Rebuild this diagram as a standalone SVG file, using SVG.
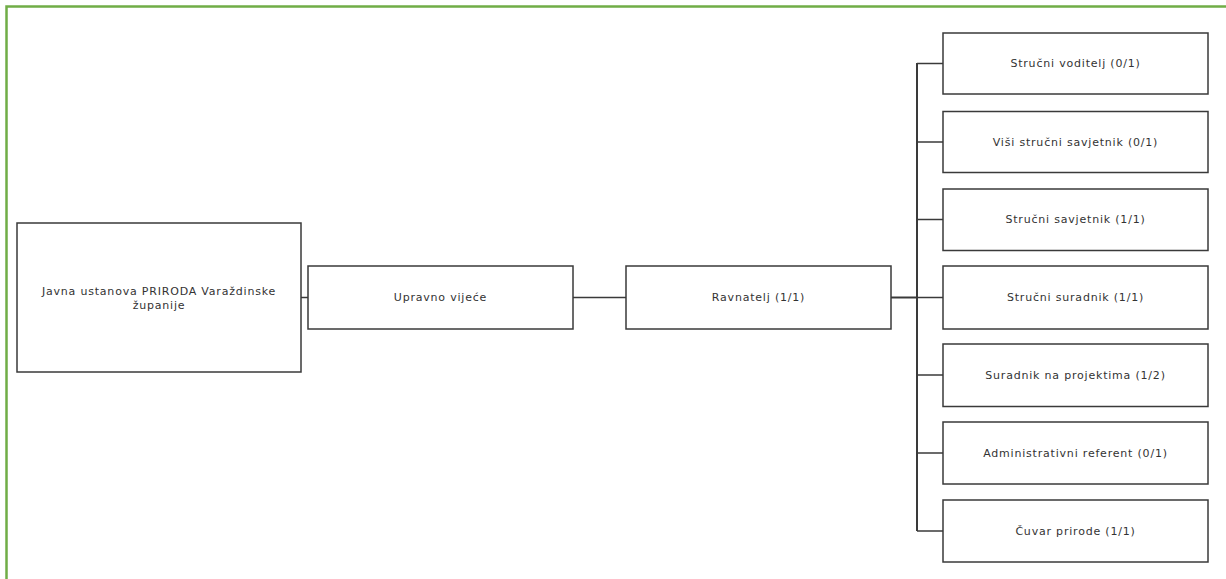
<svg xmlns="http://www.w3.org/2000/svg" width="1226" height="579" viewBox="0 0 1226 579">
<style>
.box{fill:#fff;stroke:#3a3a3a;stroke-width:1.5}
.lbl{font-family:"DejaVu Sans",Verdana,sans-serif;font-size:11px;letter-spacing:0.8px;fill:#333;text-anchor:middle;dominant-baseline:central}
.con{stroke:#3a3a3a;stroke-width:1.5;fill:none}
</style>
<rect x="0" y="0" width="1226" height="579" fill="#fff"/>
<path d="M6.5,579 V6.5 H1226" fill="none" stroke="#70ad47" stroke-width="2.5"/>
<g id="connectors">
<line class="con" x1="301" y1="297.5" x2="308" y2="297.5"/>
<line class="con" x1="573" y1="297.5" x2="626" y2="297.5"/>
<line class="con" x1="891" y1="297.5" x2="917" y2="297.5" style="stroke-width:2"/>
<line class="con" x1="917" y1="63" x2="917" y2="531" style="stroke-width:2"/>
<line class="con" x1="917" y1="63.5" x2="943" y2="63.5"/>
<line class="con" x1="917" y1="142" x2="943" y2="142"/>
<line class="con" x1="917" y1="219.5" x2="943" y2="219.5"/>
<line class="con" x1="917" y1="297.5" x2="943" y2="297.5"/>
<line class="con" x1="917" y1="375" x2="943" y2="375"/>
<line class="con" x1="917" y1="453" x2="943" y2="453"/>
<line class="con" x1="917" y1="531" x2="943" y2="531"/>
</g>
<g id="n-javna"><rect class="box" x="17" y="223" width="284" height="149"/><text class="lbl" x="159" y="291">Javna ustanova PRIRODA Varaždinske</text><text class="lbl" x="159" y="305">županije</text></g>
<g id="n-upravno"><rect class="box" x="308" y="266" width="265" height="63"/><text class="lbl" x="440.5" y="297.5">Upravno vijeće</text></g>
<g id="n-ravnatelj"><rect class="box" x="626" y="266" width="265" height="63"/><text class="lbl" x="758.5" y="297.5">Ravnatelj (1/1)</text></g>
<g id="n-1"><rect class="box" x="943" y="33" width="265" height="61"/><text class="lbl" x="1075.5" y="63.5">Stručni voditelj (0/1)</text></g>
<g id="n-2"><rect class="box" x="943" y="111.5" width="265" height="61"/><text class="lbl" x="1075.5" y="142">Viši stručni savjetnik (0/1)</text></g>
<g id="n-3"><rect class="box" x="943" y="189" width="265" height="61.5"/><text class="lbl" x="1075.5" y="219.5">Stručni savjetnik (1/1)</text></g>
<g id="n-4"><rect class="box" x="943" y="266" width="265" height="63"/><text class="lbl" x="1075.5" y="297.5">Stručni suradnik (1/1)</text></g>
<g id="n-5"><rect class="box" x="943" y="344" width="265" height="62.5"/><text class="lbl" x="1075.5" y="375">Suradnik na projektima (1/2)</text></g>
<g id="n-6"><rect class="box" x="943" y="422" width="265" height="62"/><text class="lbl" x="1075.5" y="453">Administrativni referent (0/1)</text></g>
<g id="n-7"><rect class="box" x="943" y="500" width="265" height="62"/><text class="lbl" x="1075.5" y="531">Čuvar prirode (1/1)</text></g>
</svg>
